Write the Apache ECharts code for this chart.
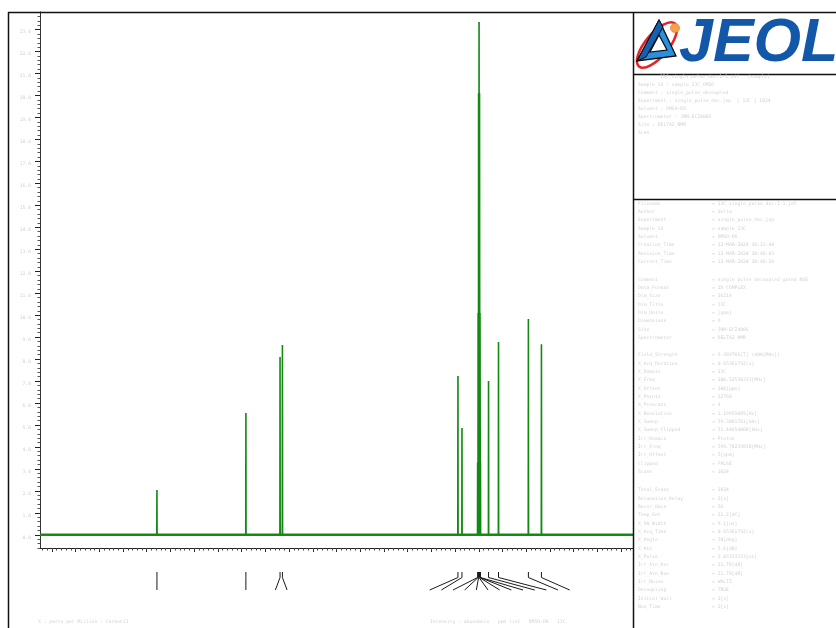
<!DOCTYPE html>
<html><head><meta charset="utf-8">
<script src="https://cdn.jsdelivr.net/npm/echarts@6/dist/echarts.min.js"></script>
<style>html,body{margin:0;padding:0;background:#fff}#c{width:836px;height:628px}</style>
</head><body><div id="c"></div>
<script>
// ---- data ----
const peakShifts  = [175.7, 138.2, 123.8, 122.8, 48.8, 47.1, 40.5, 40.3, 40.1, 39.9, 39.7, 39.5, 39.3, 35.9, 31.7, 19.1, 13.6];
const peakHeights = [2.04, 5.54, 8.09, 8.64, 7.23, 4.86, 3.3, 10.1, 20.1, 23.34, 20.1, 10.1, 3.3, 7.0, 8.78, 9.82, 8.68];
const xLimits = [-25, 225];
const xMajorLimits = [-20, 220];
const xMinorLimits = [-24, 224];
const yLimits = [-0.6, 23.8];
const yMajorLimits = [0, 23.8];
const axisTitle = "X : parts per Million : Carbon13";
const footerRight = "Intensity : abundance   ppm list   DMSO-D6   13C";
const headerLines = [
  "13C_single_pulse_dec-1-1.jdf   (sample)",
  "Sample_Id : sample_13C_DMSO",
  "Comment : single_pulse_decoupled",
  "Experiment : single_pulse_dec.jxp  [ 13C ] 1024",
  "Solvent : DMSO-D6",
  "Spectrometer : JNM-ECZ400S",
  "Site : DELTA2_NMR",
  "Scan"
];
const paramBlocks = [
  [["Filename","= 13C_single_pulse_dec-1-1.jdf"],["Author","= delta"],["Experiment","= single_pulse_dec.jxp"],["Sample_Id","= sample_13C"],["Solvent","= DMSO-D6"],["Creation_Time","= 12-MAR-2024 10:21:44"],["Revision_Time","= 12-MAR-2024 10:48:03"],["Current_Time","= 12-MAR-2024 10:48:19"]],
  [["Comment","= single pulse decoupled gated NOE"],["Data_Format","= 1D COMPLEX"],["Dim_Size","= 26214"],["Dim_Title","= 13C"],["Dim_Units","= [ppm]"],["Dimensions","= X"],["Site","= JNM-ECZ400S"],["Spectrometer","= DELTA2_NMR"]],
  [["Field_Strength","= 9.389766[T] (400[MHz])"],["X_Acq_Duration","= 0.83361792[s]"],["X_Domain","= 13C"],["X_Freq","= 100.52530333[MHz]"],["X_Offset","= 100[ppm]"],["X_Points","= 32768"],["X_Prescans","= 4"],["X_Resolution","= 1.19959885[Hz]"],["X_Sweep","= 39.3081761[kHz]"],["X_Sweep_Clipped","= 31.44654088[kHz]"],["Irr_Domain","= Proton"],["Irr_Freq","= 399.78219838[MHz]"],["Irr_Offset","= 5[ppm]"],["Clipped","= FALSE"],["Scans","= 1024"]],
  [["Total_Scans","= 1024"],["Relaxation_Delay","= 2[s]"],["Recvr_Gain","= 56"],["Temp_Get","= 21.2[dC]"],["X_90_Width","= 9.1[us]"],["X_Acq_Time","= 0.83361792[s]"],["X_Angle","= 30[deg]"],["X_Atn","= 5.6[dB]"],["X_Pulse","= 3.03333333[us]"],["Irr_Atn_Dec","= 21.78[dB]"],["Irr_Atn_Noe","= 21.78[dB]"],["Irr_Noise","= WALTZ"],["Decoupling","= TRUE"],["Initial_Wait","= 1[s]"],["Noe_Time","= 2[s]"]]
];

// ---- build spectrum polyline from peaks ----
const HALF = 0.06;
const order = peakShifts.map((s,i)=>i).sort((a,b)=>peakShifts[a]-peakShifts[b]);
const spec = [[xLimits[0],0]];
order.forEach(i=>{ const s=peakShifts[i]; spec.push([s-HALF,0],[s,peakHeights[i]],[s+HALF,0]); });
spec.push([xLimits[1],0]);
const baseline = [[xLimits[0],0],[xLimits[1],0]];

// ---- leader-line label layout (slots spread apart, clusters centred) ----
const SLOT = 4.92; // ppm between label slots
let clusters = peakShifts.slice().sort((a,b)=>b-a).map(s=>({m:[s],c:s}));
let merged = true;
while (merged) {
  merged = false;
  for (let i=0;i<clusters.length-1;i++){
    const a=clusters[i], b=clusters[i+1];
    const aRight = a.c-(a.m.length-1)/2*SLOT, bLeft = b.c+(b.m.length-1)/2*SLOT;
    if (aRight - bLeft < SLOT) {
      const m=a.m.concat(b.m);
      clusters.splice(i,2,{m, c:(Math.max(...m)+Math.min(...m))/2});
      merged = true; break;
    }
  }
}
const leaders = [];
clusters.forEach(cl=>{ const n=cl.m.length; cl.m.forEach((s,k)=>leaders.push([s, cl.c+((n-1)/2-k)*SLOT])); });

// ---- graphic decorations ----
const TXT = {font:'normal 4.7px "DejaVu Sans Mono"', fill:'#d2d2d2'};
const g = [];
const ln=(x1,y1,x2,y2,w,c)=>g.push({type:'line',silent:true,z:50,shape:{x1,y1,x2,y2},style:{stroke:c||'#111',lineWidth:w||1.5}});
ln(8.5,12,8.5,628); ln(8,12.5,836,12.5); ln(633.5,12,633.5,628); ln(633,74.5,836,74.5); ln(633,199.5,836,199.5);
const tx=(text,x,y)=>g.push({type:'text',silent:true,z:50,style:Object.assign({text,x,y,textAlign:'left',textVerticalAlign:'middle',align:'left',verticalAlign:'middle'},TXT)});
headerLines.forEach((t,i)=>tx(t, i===0?660:638, 77+i*7.9));
const blockStarts=[203.3,279.3,355,490];
paramBlocks.forEach((blk,bi)=>blk.forEach((r,ri)=>{ tx(r[0],638,blockStarts[bi]+ri*8.35); tx(r[1],712,blockStarts[bi]+ri*8.35); }));
tx(axisTitle,38,621.5); tx(footerRight,430,622);
// logo
g.push({type:'ellipse',silent:true,z:51,x:657,y:45,rotation:50*Math.PI/180,shape:{cx:0,cy:0,rx:28,ry:11.5},style:{stroke:'#e3262a',lineWidth:2.6,fill:null}});
g.push({type:'polygon',silent:true,z:52,shape:{points:[[659,20],[637,61],[676,56]]},style:{fill:'#2a8fdc',stroke:'#0a0a0a',lineWidth:1.3}});
g.push({type:'polygon',silent:true,z:53,shape:{points:[[659,20],[663,27],[646,57],[637,61]]},style:{fill:'#1560b0',stroke:'#0a0a0a',lineWidth:1}});
g.push({type:'polygon',silent:true,z:54,shape:{points:[[659,35],[650,52],[667,50]]},style:{fill:'#ffffff',stroke:'#0a0a0a',lineWidth:1.2}});
g.push({type:'circle',silent:true,z:55,shape:{cx:675,cy:28,r:4.6},style:{fill:'#f4a24a',stroke:'#e2782a',lineWidth:0.6}});
g.push({type:'text',silent:true,z:55,style:{text:'JEOL',x:679,y:44,font:'italic bold 61px "Liberation Sans"',fill:'#1257a8',textAlign:'left',textVerticalAlign:'middle',align:'left',verticalAlign:'middle'}});

// ---- chart ----
const chart = echarts.init(document.getElementById('c'), null, {renderer:'canvas'});
const W=836, H=628, L=40, R=633, T=12, B=548;
const pxPerPpm = (R-L)/(xLimits[1]-xLimits[0]);
const pxPerUnit = (B-T)/(yLimits[1]-yLimits[0]);
const baseY = B + yLimits[0]*pxPerUnit;
const hide = {show:false};
const line0 = c => ({show:true,onZero:false,lineStyle:{color:c,width:1}});
const noLine = {show:false,onZero:false};
chart.setOption({
  animation:false,
  backgroundColor:'#fff',
  grid:[
    {left:L,right:W-R,top:T,bottom:H-B,outerBoundsMode:'none',containLabel:false},
    {left:L+(xLimits[1]-xMajorLimits[1])*pxPerPpm,right:W-R+(xMajorLimits[0]-xLimits[0])*pxPerPpm,top:T,bottom:H-B,outerBoundsMode:'none'},
    {left:L+(xLimits[1]-xMinorLimits[1])*pxPerPpm,right:W-R+(xMinorLimits[0]-xLimits[0])*pxPerPpm,top:T,bottom:H-B,outerBoundsMode:'none'},
    {left:L,right:W-R,top:T,bottom:H-baseY,outerBoundsMode:'none'}
  ],
  xAxis:[
    {gridIndex:0,type:'value',position:'bottom',inverse:true,min:xLimits[0],max:xLimits[1],axisLine:line0('#222'),axisTick:hide,axisLabel:hide,splitLine:hide},
    {gridIndex:1,type:'value',position:'bottom',inverse:true,min:xMajorLimits[0],max:xMajorLimits[1],interval:10,axisLine:noLine,axisTick:{show:true,length:4,lineStyle:{color:'#222'}},axisLabel:hide,splitLine:hide},
    {gridIndex:2,type:'value',position:'bottom',inverse:true,min:xMinorLimits[0],max:xMinorLimits[1],interval:2,axisLine:noLine,axisTick:{show:true,length:2.5,lineStyle:{color:'#444'}},axisLabel:hide,splitLine:hide},
    {gridIndex:3,type:'value',position:'bottom',min:xLimits[0],max:xLimits[1],axisLine:noLine,axisTick:hide,axisLabel:hide,splitLine:hide}
  ],
  yAxis:[
    {gridIndex:0,type:'value',position:'left',min:yLimits[0],max:yLimits[1],interval:0.2,axisLine:line0('#333'),axisTick:{show:true,length:2.5,lineStyle:{color:'#555'}},axisLabel:hide,splitLine:hide},
    {gridIndex:1,type:'value',position:'left',min:yLimits[0],max:yLimits[1],axisLine:noLine,axisTick:hide,axisLabel:hide,splitLine:hide},
    {gridIndex:2,type:'value',position:'left',min:yLimits[0],max:yLimits[1],axisLine:noLine,axisTick:hide,axisLabel:hide,splitLine:hide},
    {gridIndex:3,type:'value',position:'left',min:yMajorLimits[0],max:yMajorLimits[1],interval:1,axisLine:noLine,axisTick:{show:true,length:5,lineStyle:{color:'#222'}},
      axisLabel:{show:true,margin:9,fontSize:4.7,fontFamily:'DejaVu Sans Mono',color:'#d2d2d2',verticalAlign:'top',formatter:v=>(Math.abs(v-Math.round(v))<1e-6?v.toFixed(1):'')},splitLine:hide}
  ],
  graphic:{elements:g},
  series:[
    {type:'line',xAxisIndex:0,yAxisIndex:0,data:baseline,symbol:'none',lineStyle:{color:'#1a8c1a',width:2.6},silent:true,z:4},
    {type:'line',xAxisIndex:0,yAxisIndex:0,data:spec,symbol:'none',lineStyle:{color:'#128a12',width:1.6},silent:true,z:5},
    {type:'custom',xAxisIndex:0,yAxisIndex:0,clip:false,silent:true,data:leaders,z:6,
      renderItem:(params,api)=>{
        const p=api.coord([api.value(0),0]), s=api.coord([api.value(1),0]);
        const yb=api.coord([0,yLimits[0]])[1];
        return {type:'polyline',shape:{points:[[p[0],yb+24],[p[0],yb+29.5],[s[0],yb+42]]},style:{stroke:'#1a1a1a',fill:null,lineWidth:1}};
      }}
  ]
});
</script></body></html>
